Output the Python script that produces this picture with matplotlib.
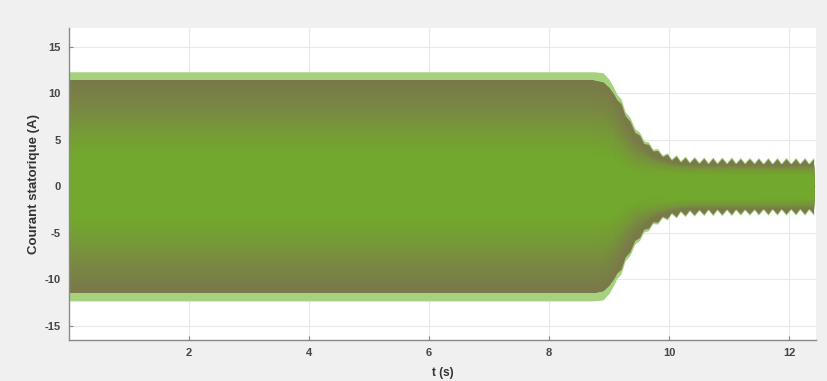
import matplotlib
matplotlib.use('Agg')
import matplotlib.pyplot as plt
import numpy as np
from matplotlib.colors import LinearSegmentedColormap, to_rgb

plt.rcParams['axes.unicode_minus'] = False
plt.rcParams['font.family'] = ['Liberation Sans', 'DejaVu Sans']

# envelope of the stator current (top edge, bottom is mirrored)
t_env = [0.00, 8.75, 8.90, 9.00, 9.08, 9.13, 9.20, 9.27, 9.35, 9.43, 9.51, 9.58,
         9.66, 9.73, 9.81, 9.89, 9.97, 10.04, 10.12, 10.19, 10.27, 10.34, 10.42,
         10.50, 10.58, 10.65, 10.73, 10.80, 10.88, 10.96, 11.04, 11.11, 11.19,
         11.26, 11.34, 11.42, 11.49, 11.57, 11.65, 11.72, 11.80, 11.87, 11.95,
         12.03, 12.11, 12.18, 12.26, 12.33, 12.41]
inner = [11.4, 11.4, 11.2, 10.6, 9.9, 9.3, 8.9, 7.6, 7.0, 5.8, 5.5, 4.6,
         4.5, 3.8, 3.85, 3.2, 3.45, 2.8, 3.25, 2.6, 3.1, 2.5, 3.05,
         2.45, 3.0, 2.4, 3.0, 2.4, 3.0, 2.4, 3.0, 2.4, 2.95,
         2.4, 2.95, 2.4, 2.95, 2.35, 2.95, 2.35, 2.95, 2.35, 2.95,
         2.35, 2.95, 2.35, 2.95, 2.35, 2.95]
# light green fringe outside the dark band
fringe = [0.9, 0.9, 1.0, 0.9, 0.7, 0.6, 0.5, 0.4, 0.4, 0.4, 0.3, 0.3,
          0.25, 0.2, 0.2, 0.15, 0.15, 0.15, 0.15, 0.15, 0.15, 0.15, 0.15,
          0.15, 0.15, 0.15, 0.15, 0.15, 0.15, 0.15, 0.15, 0.15, 0.15,
          0.15, 0.15, 0.15, 0.15, 0.15, 0.15, 0.15, 0.15, 0.15, 0.15,
          0.15, 0.15, 0.15, 0.15, 0.15, 0.15]
# smooth core of the band (where the colour shades from green to olive)
t_core = [0.00, 8.75, 8.90, 9.00, 9.10, 9.20, 9.30, 9.40, 9.50, 9.60, 9.70,
          9.80, 10.00, 10.20, 10.40, 12.41]
core = [11.4, 11.4, 11.2, 10.6, 9.6, 8.3, 7.0, 5.8, 4.9, 4.2, 3.6,
        3.2, 2.8, 2.55, 2.45, 2.4]

xticks = [2, 4, 6, 8, 10, 12]
yticks = [-15, -10, -5, 0, 5, 10, 15]

t_env = np.array(t_env)
inner = np.array(inner)
outer = inner + np.array(fringe)
t_core = np.array(t_core)
core = np.array(core)

fig = plt.figure(figsize=(8.27, 3.81), dpi=100, facecolor='#f0f0f0')
ax = fig.add_axes([69 / 827, 1 - 340 / 381, (816 - 69) / 827, (340 - 28) / 381])
ax.set_facecolor('white')

ax.fill_between(t_env, -outer, outer, color='#a6d17e', lw=0)
ax.fill_between(t_env, -inner, inner, color='#79794a', lw=0)

# big amplitude part: wide olive rim, small amplitude tail: mostly green
cmap_big = LinearSegmentedColormap.from_list(
    'big', [(0.0, '#72a82d'), (0.3, '#72a82d'), (0.55, '#769838'),
            (0.75, '#798742'), (1.0, '#79794a')])
cmap_tail = LinearSegmentedColormap.from_list(
    'tail', [(0.0, '#72a82d'), (0.55, '#72a82d'), (0.8, '#76963a'),
             (1.0, '#79794a')])
fracs = np.linspace(1.0, 0.02, 50)
for i in range(len(t_core) - 1):
    ts = t_core[i:i + 2]
    cs = core[i:i + 2]
    w = np.clip((cs.mean() - 2.6) / (5.5 - 2.6), 0, 1)
    for f in fracs:
        col = w * np.array(cmap_big(f)[:3]) + (1 - w) * np.array(cmap_tail(f)[:3])
        ax.fill_between(ts, -f * cs, f * cs, color=col, lw=0, antialiased=False)

ax.set_xlim(0, 12.45)
ax.set_ylim(-16.5, 17.0)
ax.set_xticks(xticks)
ax.set_yticks(yticks)
ax.grid(True, color='#e8e8e8', lw=0.8)
ax.set_axisbelow(True)
ax.tick_params(direction='in', length=3, width=0.8, colors='#888888',
               labelcolor='#444444', labelsize=8, pad=6)
for lab in ax.get_xticklabels() + ax.get_yticklabels():
    lab.set_fontweight('bold')
for s in ['top', 'right']:
    ax.spines[s].set_visible(False)
for s in ['left', 'bottom']:
    ax.spines[s].set_color('#8a8a8a')
    ax.spines[s].set_linewidth(1.0)

ax.set_xlabel('t (s)', fontsize=8.5, color='#333333', fontweight='bold', labelpad=6)
ax.set_ylabel('Courant statorique (A)', fontsize=9.5, color='#333333',
              fontweight='bold', labelpad=3)

fig.savefig('out.png', dpi=100, facecolor=fig.get_facecolor())
